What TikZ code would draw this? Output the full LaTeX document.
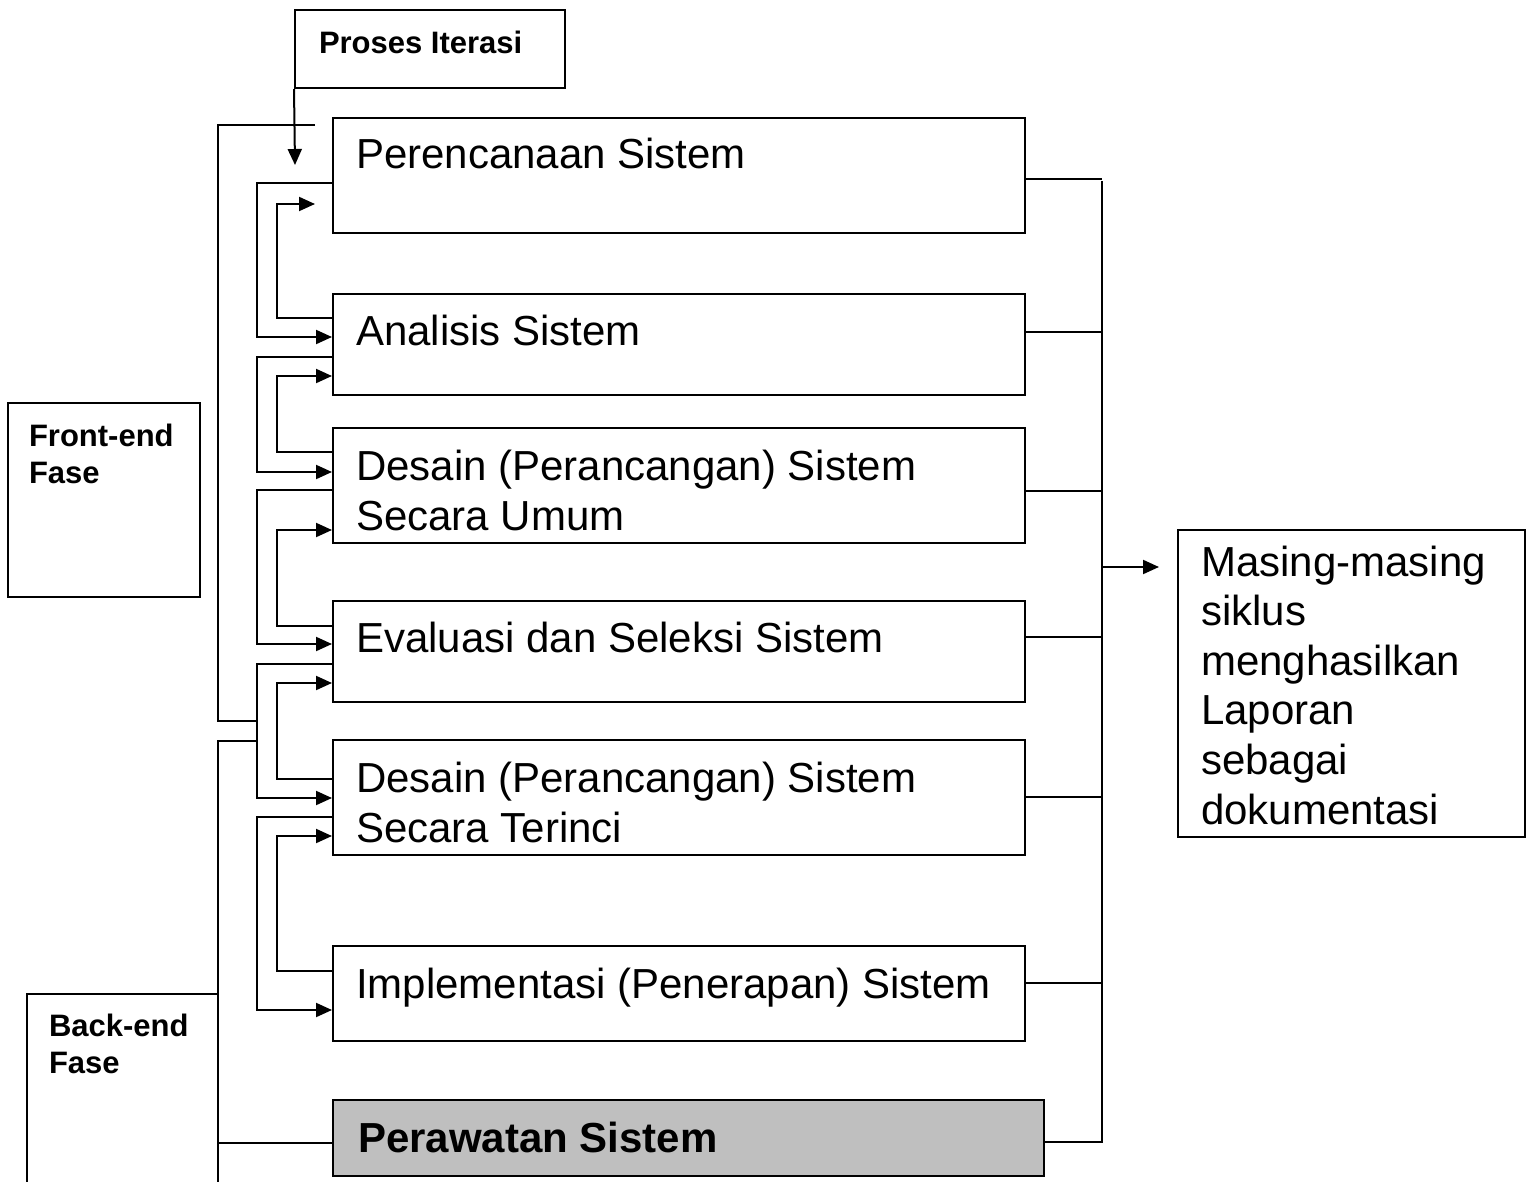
\documentclass[tikz,border=0pt]{standalone}
\usepackage{fontspec}
\setmainfont{Liberation Sans}
\usepackage{tikz}
\usetikzlibrary{arrows.meta,shapes}

\tikzset{
  tahap/.style={draw,rectangle,line width=1pt,inner sep=0pt},
  teks/.style={inner sep=0pt,anchor=base west,align=left,font=\fontsize{21}{24.8}\selectfont},
  tebal/.style={inner sep=0pt,anchor=base west,align=left,font=\bfseries\fontsize{15.5}{18.5}\selectfont},
}

\begin{document}
\begin{tikzpicture}[x=0.5pt,y=-0.5pt,line width=1pt,>={Triangle[length=8pt,width=7pt]}]
\useasboundingbox (0,0) rectangle (1531,1182);
% kotak
\node (iter) at (430,49)[tahap,minimum width=135pt,minimum height=39pt] {};
\node (front) at (104,500)[tahap,minimum width=96pt,minimum height=97pt] {};
\node (back) at (122.5,1110)[tahap,minimum width=95.5pt,minimum height=116pt] {};
\node (plan) at (679,175.5)[tahap,minimum width=346pt,minimum height=57.5pt] {};
\node (ana) at (679,344.5)[tahap,minimum width=346pt,minimum height=50.5pt] {};
\node (umum) at (679,485.5)[tahap,minimum width=346pt,minimum height=57.5pt] {};
\node (eval) at (679,651.5)[tahap,minimum width=346pt,minimum height=50.5pt] {};
\node (rinci) at (679,797.5)[tahap,minimum width=346pt,minimum height=57.5pt] {};
\node (impl) at (679,993.5)[tahap,minimum width=346pt,minimum height=47.5pt] {};
\node (rawat) at (688.5,1138)[tahap,fill=black!25,minimum width=355.5pt,minimum height=38pt] {};
\node (hasil) at (1351.5,683.5)[tahap,minimum width=173.5pt,minimum height=153.5pt] {};
% teks
\node (titer) at (318,54)[tebal] {Proses Iterasi};
\node (tfront) at (28,483)[tebal] {Front-end\\Fase};
\node (tback) at (48,1073)[tebal] {Back-end\\Fase};
\node (tplan) at (355,169)[teks] {Perencanaan Sistem};
\node (tana) at (355,345)[teks] {Analisis Sistem};
\node (tumum) at (355,530)[teks] {Desain (Perancangan) Sistem\\Secara Umum};
\node (teval) at (355,652)[teks] {Evaluasi dan Seleksi Sistem};
\node (trinci) at (355,842)[teks] {Desain (Perancangan) Sistem\\Secara Terinci};
\node (timpl) at (355,998)[teks] {Implementasi (Penerapan) Sistem};
\node (trawat) at (357,1152)[teks,font=\bfseries\fontsize{21}{24.8}\selectfont] {Perawatan Sistem};
\node (thasil) at (1200,824)[teks] {Masing-masing\\siklus\\menghasilkan\\Laporan\\sebagai\\dokumentasi};
% proses iterasi
\draw [->] (iter.south west) -- (295,165);
% fase
\draw (315,125) -| (218,721) -- (257,721);
\draw (257,741) -| (218,1200);
\draw (218,1143) -- (rawat.west |- 0,1143);
% maju
\draw [->] (plan.west |- 0,183) -- (257,183) |- (ana.west |- 0,337);
\draw [->] (ana.west |- 0,357) -- (257,357) |- (umum.west |- 0,472);
\draw [->] (umum.west |- 0,490) -- (257,490) |- (eval.west |- 0,644);
\draw [->] (eval.west |- 0,664) -- (257,664) |- (rinci.west |- 0,798);
\draw [->] (rinci.west |- 0,817) -- (257,817) |- (impl.west |- 0,1010);
% mundur
\draw [->,shorten >=8.5pt] (ana.west |- 0,318) -- (277,318) |- (plan.west |- 0,204);
\draw [->] (umum.west |- 0,452) -- (277,452) |- (ana.west |- 0,376);
\draw [->] (eval.west |- 0,626) -- (277,626) |- (umum.west |- 0,530);
\draw [->] (rinci.west |- 0,779) -- (277,779) |- (eval.west |- 0,683);
\draw [->] (impl.west |- 0,971) -- (277,971) |- (rinci.west |- 0,836);
% kanan
\draw (plan.east |- 0,179) -- (1102,179);
\draw (ana.east |- 0,332) -- (1102,332);
\draw (umum.east |- 0,491) -- (1102,491);
\draw (eval.east |- 0,637) -- (1102,637);
\draw (rinci.east |- 0,797) -- (1102,797);
\draw (impl.east |- 0,983) -- (1102,983);
\draw (rawat.east |- 0,1142) -- (1102,1142) -- (1102,181);
\draw [->,shorten >=9pt] (1102,567) -- (hasil.west |- 0,567);
\end{tikzpicture}
\end{document}
